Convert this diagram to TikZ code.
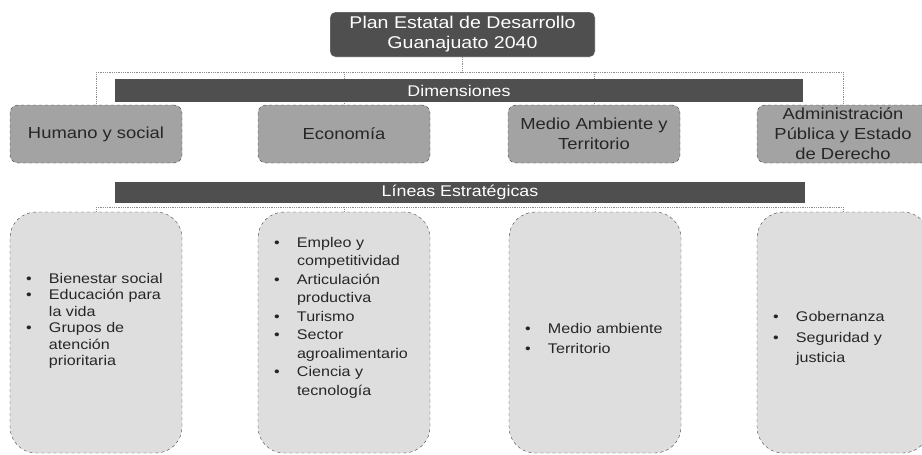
\documentclass[tikz,border=0pt]{standalone}
\usepackage{fontspec}
\setmainfont[FakeStretch=1.15]{Liberation Sans}
\usetikzlibrary{calc}

\definecolor{darkbox}{gray}{0.31}
\definecolor{midbox}{gray}{0.64}
\definecolor{lightbox}{gray}{0.87}
\definecolor{rimline}{gray}{0.25}
\definecolor{linkline}{gray}{0.55}

\newcommand{\bul}{\makebox[23pt][l]{\textbullet}}
\newcommand{\cont}{\hspace*{23pt}}

\tikzset{
  bar/.style={rectangle,fill=darkbox,text=white,inner sep=0pt,
    font=\fontsize{15.5}{17}\selectfont},
  dimbox/.style={rectangle,rounded corners=8pt,fill=midbox,draw=rimline,dashed,
    minimum width=172pt,minimum height=58pt,inner sep=0pt,align=center,
    text=black!85,font=\fontsize{16}{20}\selectfont},
  linbox/.style={rectangle,rounded corners=26pt,fill=lightbox,draw=rimline,dashed,
    minimum width=172pt,minimum height=241pt,inner sep=0pt},
  bullets/.style={anchor=west,inner sep=0pt,align=left,text=black!85,
    font=\fontsize{14}{16.5}\selectfont},
  link/.style={draw=linkline,densely dotted,thick}
}

\begin{document}
\begin{tikzpicture}[x=1pt,y=-1pt]

  \useasboundingbox (0,0) rectangle (922,455);
  \clip (0,0) rectangle (922,455);

  % Title
  \node[rectangle,rounded corners=5pt,fill=darkbox,draw=white,text=white,
    minimum width=265pt,minimum height=45pt,align=center,
    font=\fontsize{17}{20}\selectfont] (plan) at (462.5,34.5)
    {Plan Estatal de Desarrollo\\Guanajuato 2040};

  % Dimensions
  \node[dimbox] (dimA) at (96,134)  {Humano y social};
  \node[dimbox] (dimB) at (344,134) {Econom\'ia};
  \node[dimbox] (dimC) at (594,134) {Medio Ambiente y\\Territorio};
  \node[dimbox] (dimD) at (843,134) {Administraci\'on\\P\'ublica y Estado\\de Derecho};

  % Strategic lines
  \node[linbox] (linA) at (96,332.5)  {};
  \node[linbox] (linB) at (344,332.5) {};
  \node[linbox] (linC) at (595,332.5) {};
  \node[linbox] (linD) at (843,332.5) {};

  % Connectors
  \coordinate (hub) at ($(plan.south)+(0,15)$);
  \draw[link] (plan.south) -- (hub);
  \draw[link] (hub -| dimA.north) -- (hub -| dimD.north);
  \foreach \d in {dimA,dimB,dimC,dimD}
    \draw[link] (hub -| \d.north) -- (\d.north);
  \coordinate (hub2) at (0,207);
  \draw[link] (hub2 -| linA.north) -- (hub2 -| linD.north);
  \foreach \l in {linA,linB,linC,linD}
    \draw[link] (hub2 -| \l.north) -- (\l.north);

  % Bars
  \node[bar,minimum width=688pt,minimum height=23pt] (dimbar) at (459,90.5) {Dimensiones};
  \node[bar,minimum width=690pt,minimum height=21pt] (linbar) at (460,192.5) {L\'ineas Estrat\'egicas};

  % Bullet lists
  \node[bullets] (txtA) at ($(linA.west)+(16,-11.5)$)
    {\bul Bienestar social\\\bul Educaci\'on para\\\cont la vida\\\bul Grupos de\\\cont atenci\'on\\\cont prioritaria};
  \node[bullets,font=\fontsize{14}{18.5}\selectfont] (txtB) at ($(linB.west)+(16,-15)$)
    {\bul Empleo y\\\cont competitividad\\\bul Articulaci\'on\\\cont productiva\\\bul Turismo\\\bul Sector\\\cont agroalimentario\\\bul Ciencia y\\\cont tecnolog\'ia};
  \node[bullets,font=\fontsize{14}{20}\selectfont] (txtC) at ($(linC.west)+(16,5.5)$)
    {\bul Medio ambiente\\\bul Territorio};
  \node[bullets,font=\fontsize{14}{20.5}\selectfont] (txtD) at ($(linD.west)+(16,6)$)
    {\bul Gobernanza\\\bul Seguridad y\\\cont justicia};

\end{tikzpicture}
\end{document}
